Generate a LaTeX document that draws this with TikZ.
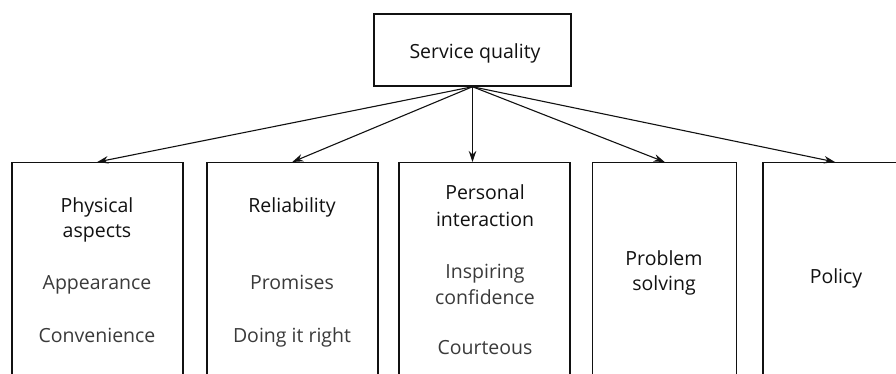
\documentclass[tikz,border=0pt]{standalone}
\usepackage{fontspec}
\setmainfont{Open Sans}
\usepackage{tikz}
\usetikzlibrary{arrows.meta}
\usetikzlibrary{shapes}

\definecolor{headcol}{HTML}{111111}
\definecolor{itemcol}{HTML}{3A3A3A}

\tikzset{
  box/.style={draw=headcol, line width=1.5pt, rectangle, inner sep=0pt},
  head/.style={anchor=base, text=headcol, font=\fontsize{19.5}{23}\selectfont},
  item/.style={anchor=base, text=itemcol, font=\fontsize{19.5}{23}\selectfont},
  link/.style={draw=headcol, line width=1.1pt, -{Stealth[length=11pt,width=7.5pt]}}
}

\begin{document}
\begin{tikzpicture}[x=1pt,y=1pt]
 \useasboundingbox (0,0) rectangle (896,-374);
 \clip (0,0) rectangle (896,-374);

 % top box
 \node[box, minimum width=197pt, minimum height=72pt] (sq) at (472.5,-50) {};
 \node[head] (sqt) at (475,-59) {Service quality};

 % lower boxes
 \node[box, anchor=north, minimum width=171pt, minimum height=220pt] (phys) at (97.3,-162) {};
 \node[box, anchor=north, minimum width=171pt, minimum height=220pt] (rel) at (292.3,-162) {};
 \node[box, anchor=north, minimum width=171pt, minimum height=220pt] (pers) at (484.5,-162) {};
 \node[box, anchor=north, minimum width=144pt, minimum height=220pt] (prob) at (664.7,-162) {};
 \node[box, anchor=north, minimum width=144pt, minimum height=220pt] (pol) at (835,-162) {};

 % texts
 \node[head] (physa) at (97,-212) {Physical};
 \node[head] (physb) at (97,-237) {aspects};
 \node[item] (physc) at (97,-289) {Appearance};
 \node[item] (physd) at (97,-342) {Convenience};

 \node[head] (rela) at (292,-212) {Reliability};
 \node[item] (relb) at (292,-289) {Promises};
 \node[item] (relc) at (292,-342) {Doing it right};

 \node[head] (persa) at (485,-200) {Personal};
 \node[head] (persb) at (485,-226) {interaction};
 \node[item] (persc) at (485,-278) {Inspiring};
 \node[item] (persd) at (485,-304) {confidence};
 \node[item] (perse) at (485,-354) {Courteous};

 \node[head] (proba) at (664,-265) {Problem};
 \node[head] (probb) at (664,-290) {solving};

 \node[head] (pola) at (836,-283) {Policy};

 % arrows
 \draw[link] (sq.south) -- (phys.north);
 \draw[link] (sq.south) -- (rel.north);
 \draw[link] (sq.south) -- (sq.south |- pers.north);
 \draw[link] (sq.south) -- (prob.north);
 \draw[link] (sq.south) -- (pol.north);
\end{tikzpicture}
\end{document}
